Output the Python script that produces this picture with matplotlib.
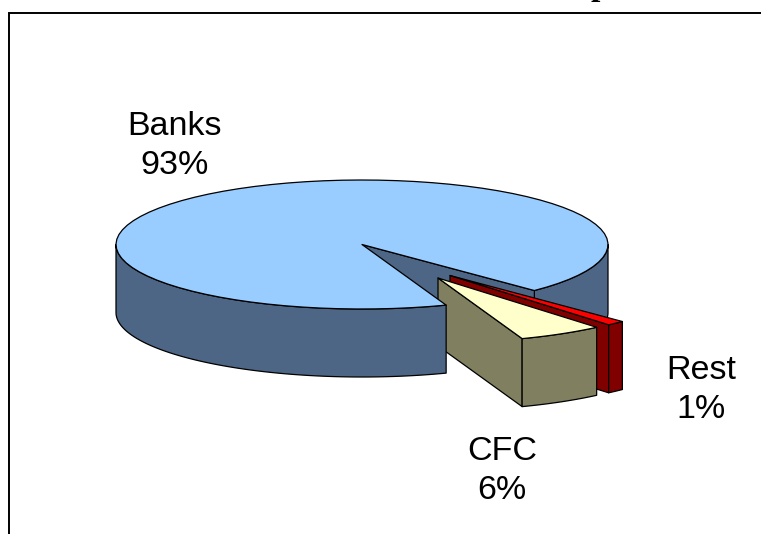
import numpy as np
import matplotlib
matplotlib.use("Agg")
import matplotlib.pyplot as plt
from matplotlib.patches import Polygon

labels = ["Banks\n93%", "CFC\n6%", "Rest\n1%"]
shares = [93.2, 5.6, 1.2]
top_cols = ["#99CCFF", "#FFFFCC", "#FF0000"]
side_cols = ["#4D6685", "#808060", "#800000"]

plt.rcParams["font.family"] = ["Liberation Sans", "DejaVu Sans"]

W, H = 761, 534
cx, cy, rx, ry, depth = 362, 244.5, 246, 64.5, 68
t0 = 70.0  # bottom cut of the pie, degrees on the flattened ellipse

fig = plt.figure(figsize=(W / 100, H / 100), dpi=100)
ax = fig.add_axes([0, 0, 1, 1])
ax.set_xlim(0, W); ax.set_ylim(H, 0); ax.axis("off")

def arc(a, b, ox=0, oy=0, n=80):
    t = np.radians(np.linspace(a, b, n))
    return np.column_stack([cx + ox + rx * np.cos(t), cy + oy + ry * np.sin(t)])

def poly(pts, fc, z):
    ax.add_patch(Polygon(pts, closed=True, fc=fc, ec="black", lw=0.9, joinstyle="round", zorder=z))

def wall(a, b, col, z, ox=0, oy=0):
    top = arc(a, b, ox, oy)
    poly(np.vstack([top, top[::-1] + [0, depth]]), col, z)

def cut(a, col, z, ox=0, oy=0):
    p = arc(a, a, ox, oy, 1)[0]
    c = np.array([cx + ox, cy + oy])
    poly([c, p, p + [0, depth], c + [0, depth]], col, z)

def top(a, b, col, z, ox=0, oy=0):
    poly(np.vstack([[cx + ox, cy + oy], arc(a, b, ox, oy)]), col, z)

# angles from the shares
cfc_a = t0 - shares[1] * 3.6
rest_a = cfc_a - shares[2] * 3.6
banks_a = rest_a - shares[0] * 3.6

# banks, back parts
wall(0, rest_a, side_cols[0], 1)
cut(rest_a, side_cols[0], 2)
# rest slice
o = (88, 31)
cut(cfc_a, side_cols[2], 3, *o)
wall(rest_a, cfc_a, side_cols[2], 4, *o)
top(rest_a, cfc_a, top_cols[2], 5, *o)
# cfc slice
o = (76, 33.5)
cut(t0, side_cols[1], 6, *o)
wall(cfc_a, t0, side_cols[1], 7, *o)
top(cfc_a, t0, top_cols[1], 8, *o)
# banks, front parts
wall(t0, 180, side_cols[0], 9)
top(banks_a, rest_a, top_cols[0], 10)

for s, x, y in zip(labels, [175, 502, 701], [146, 471, 390]):
    ax.text(x, y, s, ha="center", va="center", fontsize=24.5, linespacing=1.36, color="black", zorder=20)

# frame of the slide
ax.plot([9, 9, W], [H, 12.5, 12.5], color="black", lw=1.4, solid_joinstyle="miter", zorder=21)
# descender of the cut-off title
ax.text(600, -5, "p", ha="center", va="baseline", fontsize=24, family="Liberation Serif", weight="bold")

fig.savefig("out.png", dpi=100)
